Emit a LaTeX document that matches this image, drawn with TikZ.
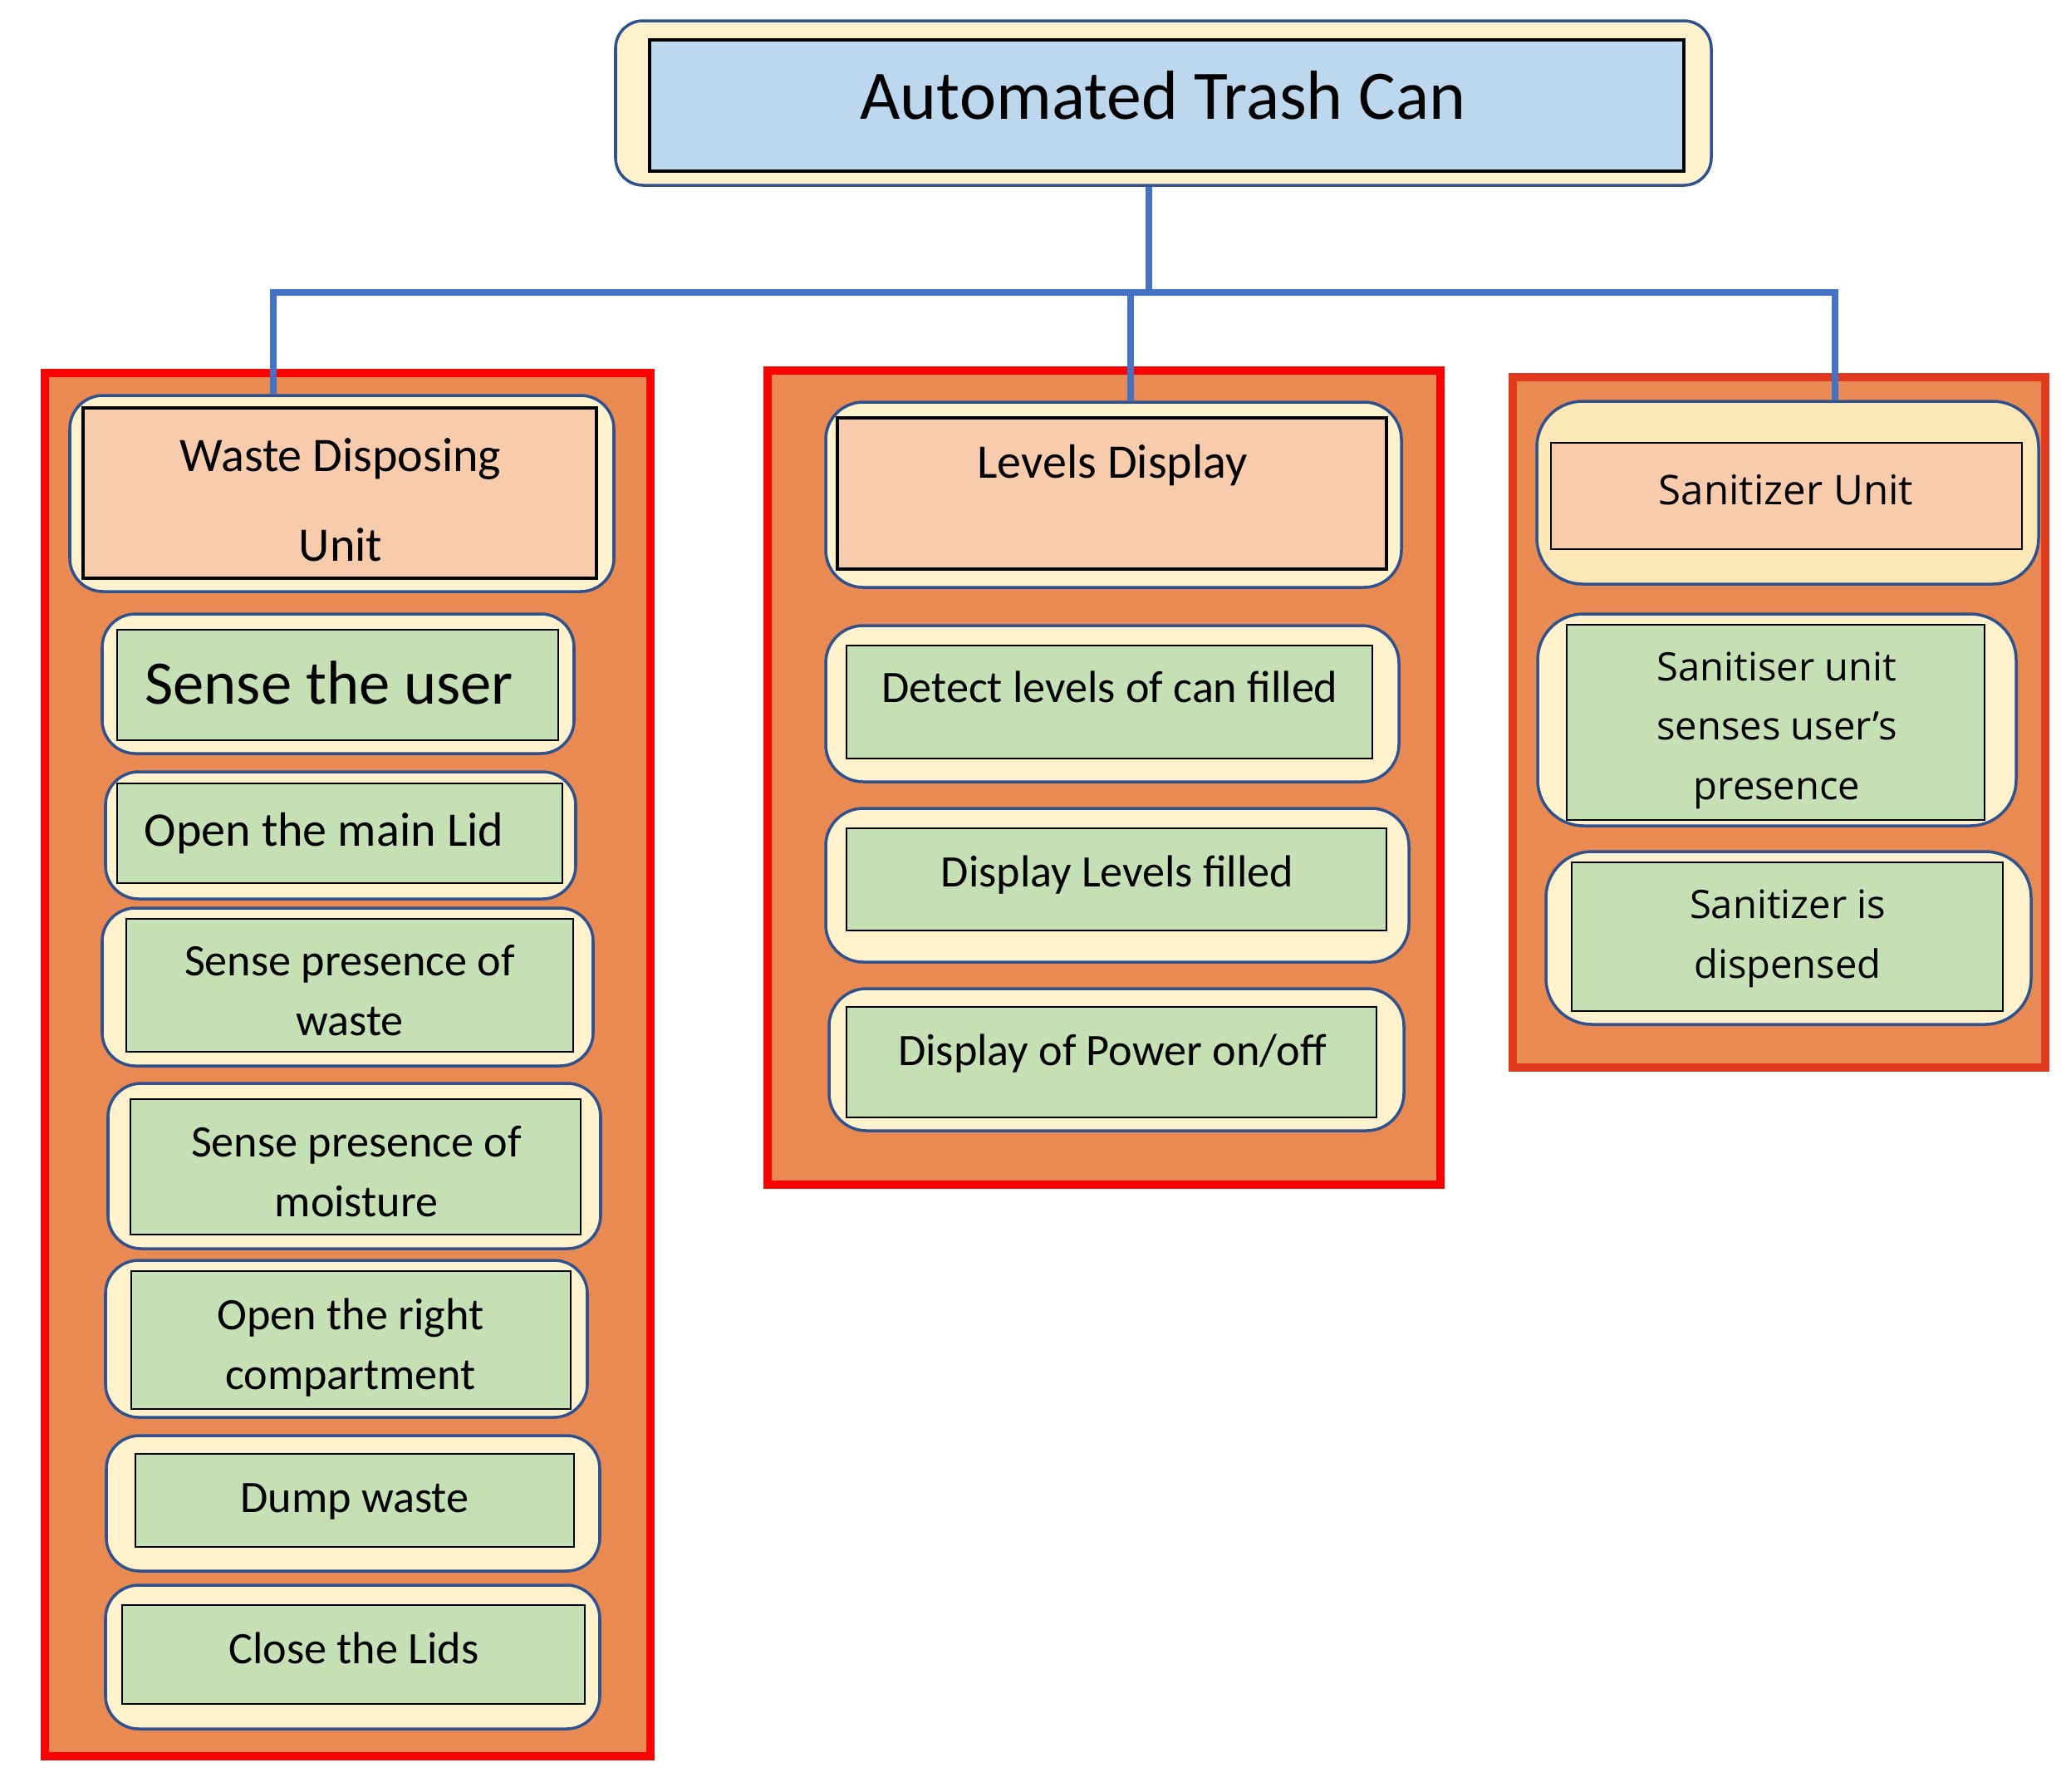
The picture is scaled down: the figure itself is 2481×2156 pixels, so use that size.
\documentclass[tikz,border=0pt]{standalone}
\usepackage{fontspec}
\setmainfont{Carlito}
\newfontfamily\gothic{Open Sans}
\usetikzlibrary{fit}

\definecolor{panelorange}{HTML}{E98A52}
\definecolor{panelred}{HTML}{FF0000}
\definecolor{panelredb}{HTML}{E23A1E}
\definecolor{cream}{HTML}{FFF2CC}
\definecolor{creamdeep}{HTML}{FCE8B6}
\definecolor{pillblue}{HTML}{2F528F}
\definecolor{peach}{HTML}{F8CBAD}
\definecolor{leaf}{HTML}{C5E0B4}
\definecolor{skyblue}{HTML}{BDD7EE}
\definecolor{linkblue}{HTML}{4472C4}

\tikzset{
  panel/.style={fill=panelorange, draw=panelred, line width=2.6pt, inner sep=0pt},
  pill/.style={fill=cream, draw=pillblue, line width=1pt, rounded corners=0.4cm, inner sep=0pt},
  headbox/.style={fill=peach, draw=black, line width=1pt, inner sep=0pt},
  taskbox/.style={fill=leaf, draw=black, line width=0.8pt, inner sep=0pt},
  tasktext/.style={font=\fontsize{15.4}{20.2}\selectfont, align=center, anchor=base, inner sep=0pt},
  headtext/.style={tasktext, font=\fontsize{16.5}{20.2}\selectfont},
  link/.style={draw=linkblue, line width=2.2pt},
}

\begin{document}
\begin{tikzpicture}[x=0.01cm, y=-0.01cm]
    \useasboundingbox (0,0) rectangle (2481,2156);

    % the three unit panels
    \node[panel, fit={(54,449) (783,2114)}] (wastepanel) {};
    \node[panel, fit={(924,446) (1734,1426)}] (levelpanel) {};
    \node[panel, draw=panelredb, fit={(1821,454) (2462,1285)}] (sanipanel) {};

    % top
    \node[pill, rounded corners=0.33cm, fit={(741,25) (2060,223)}] (trash) {};
    \node[headbox, fill=skyblue, fit={(782,48) (2027,206)}] (trashbox) {};
    \node[tasktext, font=\fontsize{23.8}{28}\selectfont] (trashtext) at (1400,143) {Automated Trash Can};

    % waste disposing unit (text y = last baseline)
    \node[pill, fit={(84,476) (739,712)}] (waste) {};
    \node[headbox, line width=1.3pt, fit={(100,491) (718,696)}] (wastebox) {};
    \node[headtext, font=\fontsize{16.5}{30.7}\selectfont] (wastetext) at (410,675) {Waste Disposing\\Unit};
    \foreach \n/\a/\b/\c/\d/\e/\f/\g/\h/\tx/\ty/\t in {
        user/123/739/691/907/141/758/672/891/396/847/{\fontsize{21.2}{26}\selectfont Sense the user},
        lid/127/929/693/1082/141/943/677/1063/390/1018/{\fontsize{16.5}{20.2}\selectfont Open the main Lid},
        rubbish/123/1093/714/1283/152/1106/690/1266/421/1246/{Sense presence of\\waste},
        moist/130/1304/723/1503/157/1323/699/1486/429/1464/{Sense presence of\\moisture},
        compart/127/1517/707/1706/158/1530/687/1696/422/1672/{Open the right\\compartment},
        dump/128/1728/722/1891/163/1750/691/1862/427/1820/{Dump waste},
        close/127/1908/722/2081/147/1932/704/2051/426/2002/{Close the Lids}} {
        \node[pill, fit={(\a,\b) (\c,\d)}] (\n) {};
        \node[taskbox, fit={(\e,\f) (\g,\h)}] (\n box) {};
        \node[tasktext] (\n text) at (\tx,\ty) {\t};
    }

    % levels display
    \node[pill, rounded corners=0.45cm, fit={(994,484) (1687,707)}] (levels) {};
    \node[headbox, line width=0.9pt, fit={(1008,503) (1669,685)}] (levelsbox) {};
    \node[headtext] (levelstext) at (1339,575) {Levels Display};
    \foreach \n/\a/\b/\c/\d/\e/\f/\g/\h/\tx/\ty/\t in {
        detect/994/753/1684/941/1019/777/1652/913/1336/845/{Detect levels of can filled},
        filled/994/973/1696/1158/1019/997/1669/1120/1345/1067/{Display Levels filled},
        power/998/1190/1690/1361/1019/1212/1657/1345/1339/1282/{Display of Power on/off}} {
        \node[pill, rounded corners=0.45cm, fit={(\a,\b) (\c,\d)}] (\n) {};
        \node[taskbox, fit={(\e,\f) (\g,\h)}] (\n box) {};
        \node[tasktext] (\n text) at (\tx,\ty) {\t};
    }

    % sanitizer unit
    \node[pill, fill=creamdeep, rounded corners=0.55cm, fit={(1850,483) (2454,703)}] (sani) {};
    \node[headbox, line width=0.7pt, fit={(1867,533) (2434,661)}] (sanibox) {};
    \node[headtext, font=\gothic\fontsize{14}{20.2}\selectfont] (sanitext) at (2150,607) {Sanitizer Unit};
    \foreach \n/\a/\b/\c/\d/\e/\f/\g/\h/\tx/\ty/\t in {
        presence/1851/739/2427/994/1886/752/2389/987/2139/962/{Sanitiser unit\\senses user’s\\presence},
        dispense/1861/1025/2445/1233/1892/1038/2411/1217/2152/1177/{Sanitizer is\\dispensed}} {
        \node[pill, rounded corners=0.55cm, fit={(\a,\b) (\c,\d)}] (\n) {};
        \node[taskbox, line width=0.7pt, fit={(\e,\f) (\g,\h)}] (\n box) {};
        \node[tasktext, font=\gothic\fontsize{13.4}{20.2}\selectfont] (\n text) at (\tx,\ty) {\t};
    }

    % links
    \coordinate (hub) at (1383,352);
    \coordinate (wastejoin) at (329,352);
    \coordinate (leveljoin) at (1361,352);
    \coordinate (sanijoin) at (2209,352);
    \draw[link] (trash.south -| hub) -- (hub);
    \draw[link] (waste.north -| wastejoin) -- (wastejoin) -- (sanijoin) -- (sani.north -| sanijoin);
    \draw[link] (leveljoin) -- (levels.north -| leveljoin);
\end{tikzpicture}
\end{document}
